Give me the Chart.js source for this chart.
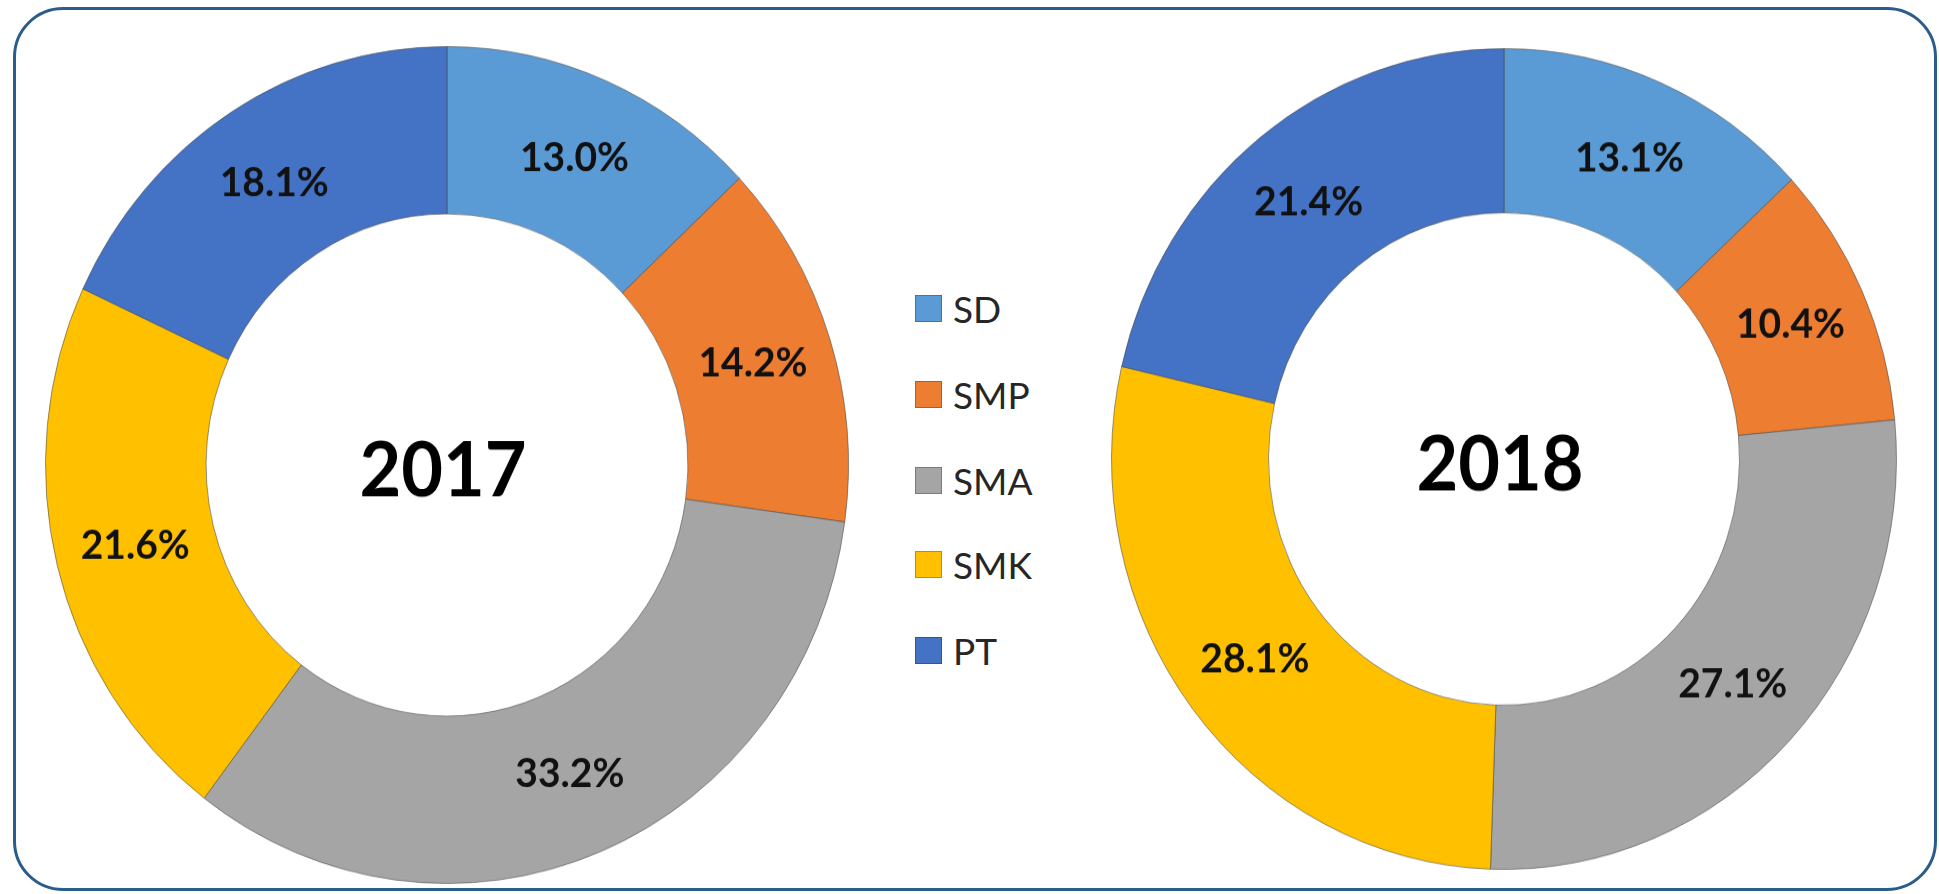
<!DOCTYPE html>
<html>
<head>
<meta charset="utf-8">
<script src="https://cdn.jsdelivr.net/npm/chart.js@4/dist/chart.umd.min.js"></script>
<style>
  html, body { margin: 0; padding: 0; background: #ffffff; }
  body { width: 1939px; height: 894px; position: relative; overflow: hidden; font-family: Lato, "Open Sans", sans-serif; }
  #frame { position: absolute; left: 13px; top: 7px; width: 1918px; height: 878px; border: 3px solid #2c5d8a; border-radius: 50px; box-sizing: content-box; }
  canvas { position: absolute; }
  .leg { position: absolute; left: 915px; height: 40px; display: flex; align-items: center; font-size: 37px; color: #262626; }
  .sw { width: 25px; height: 25px; border: 1px solid rgba(0,0,0,0.25); margin-right: 11px; }
</style>
</head>
<body>
<div id="frame"></div>
<canvas id="c2017" width="806" height="806" style="left:44px; top:45px; width:806px; height:840px;"></canvas>
<canvas id="c2018" width="788" height="788" style="left:1110px; top:47px; width:788px; height:824px;"></canvas>
<div id="legend"></div>
<script>
const categories = ['SD', 'SMP', 'SMA', 'SMK', 'PT'];
const values2017 = [13.0, 14.2, 33.2, 21.6, 18.1];
const values2018 = [13.1, 10.4, 27.1, 28.1, 21.4];
const years = ['2017', '2018'];
const sliceColors = ['#5B9BD5', '#ED7D31', '#A5A5A5', '#FFC000', '#4472C4'];

const labelPlugin = {
  id: 'sliceLabels',
  afterDatasetsDraw(chart, args, opts) {
    const ctx = chart.ctx;
    const meta = chart.getDatasetMeta(0);
    const data = chart.data.datasets[0].data;
    ctx.save();
    ctx.fillStyle = '#111';
    ctx.textAlign = 'center';
    ctx.textBaseline = 'middle';
    ctx.font = 'bold 39px Lato, "Open Sans", sans-serif';
    meta.data.forEach((arc, i) => {
      const p = arc.tooltipPosition();
      ctx.fillText(data[i].toFixed(1) + '%', p.x, p.y);
    });
    const a0 = meta.data[0];
    ctx.fillStyle = '#000';
    ctx.font = 'bold 72px Lato, "Open Sans", sans-serif';
    ctx.fillText(opts.title, a0.x - 4, a0.y + 7);
    ctx.restore();
  }
};

function makeChart(id, values, title) {
  return new Chart(document.getElementById(id), {
    type: 'doughnut',
    data: {
      labels: categories,
      datasets: [{
        data: values,
        backgroundColor: sliceColors,
        borderColor: 'rgba(70,70,70,0.55)',
        borderWidth: 1
      }]
    },
    options: {
      responsive: false,
      animation: false,
      cutout: '60%',
      layout: { padding: 1 },
      plugins: {
        legend: { display: false },
        tooltip: { enabled: false },
        sliceLabels: { title: title }
      }
    },
    plugins: [labelPlugin]
  });
}

makeChart('c2017', values2017, years[0]);
makeChart('c2018', values2018, years[1]);

const legend = document.getElementById('legend');
const legendTops = [288, 374, 460, 544, 630];
categories.forEach((c, i) => {
  const row = document.createElement('div');
  row.className = 'leg';
  row.style.top = legendTops[i] + 'px';
  const sw = document.createElement('div');
  sw.className = 'sw';
  sw.style.background = sliceColors[i];
  const t = document.createElement('span');
  t.textContent = c;
  row.appendChild(sw);
  row.appendChild(t);
  legend.appendChild(row);
});
</script>
</body>
</html>
